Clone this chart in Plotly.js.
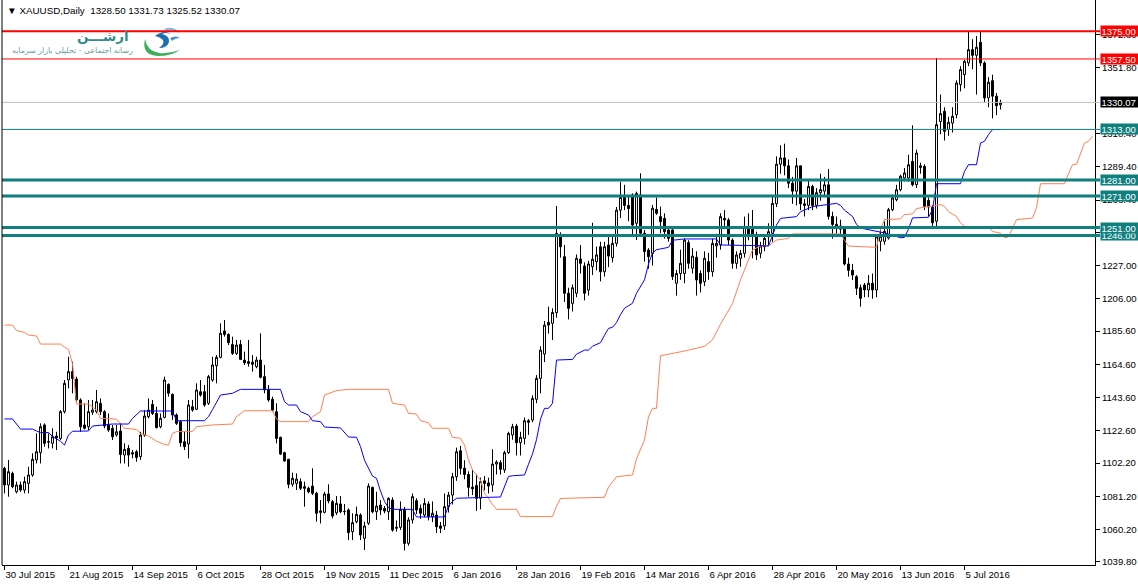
<!DOCTYPE html>
<html><head><meta charset="utf-8">
<script src="https://cdn.plot.ly/plotly-3.0.1.min.js"></script>
<style>html,body{margin:0;padding:0;background:#fff;}#chart{width:1138px;height:585px;}</style>
</head><body><div id="chart"></div>
<script>
// ---- data ----
const openP = [1098.9,1088.4,1095.7,1084.1,1088.4,1085.2,1089.4,1094.7,1104.2,1108.8,
1126.3,1115.8,1114.7,1119.3,1117.8,1134.7,1154.7,1160.0,1155.3,1142.1,
1126.3,1125.2,1134.3,1134.7,1140.0,1134.7,1126.3,1124.2,1120.0,1122.5,
1107.3,1111.5,1108.8,1109.4,1106.3,1119.9,1131.5,1139.3,1133.6,1125.2,
1131.1,1151.9,1145.6,1132.6,1128.4,1115.7,1114.3,1137.8,1136.2,1147.3,
1147.3,1140.0,1154.7,1163.7,1169.0,1185.7,1183.5,1177.2,1171.5,1177.2,
1167.3,1166.3,1165.9,1163.1,1167.3,1156.8,1148.4,1142.5,1134.7,1118.5,
1108.8,1104.6,1088.8,1089.4,1090.5,1087.3,1086.3,1087.7,1083.1,1072.0,
1071.1,1082.7,1077.8,1070.8,1076.4,1071.5,1072.6,1058.9,1065.2,1069.4,
1054.7,1064.2,1086.9,1071.5,1075.7,1073.6,1071.5,1078.9,1061.0,1061.6,
1073.0,1051.5,1066.3,1078.5,1073.6,1069.4,1076.4,1068.4,1069.4,1062.5,
1062.5,1074.7,1082.0,1093.6,1110.0,1099.0,1095.0,1087.0,1088.0,1080.0,
1091.0,1089.7,1088.4,1101.6,1102.5,1097.9,1108.8,1120.0,1125.6,1115.1,
1117.8,1129.0,1129.4,1142.5,1155.7,1171.1,1191.1,1190.5,1197.2,1246.3,
1232.6,1209.5,1203.1,1209.5,1231.1,1226.7,1211.5,1226.3,1229.4,1238.9,
1223.1,1240.0,1232.0,1241.0,1262.0,1270.0,1265.0,1271.6,1253.7,1271.6,
1247.4,1236.8,1234.7,1262.5,1257.9,1256.8,1249.5,1249.5,1215.8,1222.0,
1222.0,1241.5,1225.3,1232.2,1222.0,1216.8,1229.5,1223.1,1239.4,1240.0,
1256.8,1255.8,1243.1,1228.4,1231.6,1234.7,1250.5,1250.5,1246.3,1234.7,
1238.9,1245.2,1247.4,1266.0,1291.0,1295.0,1290.0,1279.0,1274.0,1290.0,
1266.0,1265.0,1277.0,1265.0,1273.0,1274.0,1278.0,1258.0,1253.0,1252.0,
1250.0,1228.0,1224.0,1220.0,1213.0,1214.7,1211.6,1215.8,1211.6,1242.3,
1242.3,1244.4,1262.3,1268.6,1274.9,1282.3,1282.3,1292.8,1278.1,1290.0,
1289.7,1268.2,1263.8,1255.0,1318.0,1324.4,1312.9,1317.0,1322.3,1341.3,
1347.6,1355.0,1363.4,1359.8,1368.0,1355.0,1332.9,1343.8,1334.0,1328.5];
const highP = [1099.9,1104.2,1096.8,1090.5,1090.5,1093.6,1099.9,1108.4,1121.0,1127.3,
1127.3,1121.0,1124.2,1122.0,1135.7,1154.7,1169.4,1166.3,1156.8,1143.1,
1140.0,1142.1,1142.1,1148.4,1143.1,1135.7,1133.6,1126.3,1126.3,1127.3,
1114.7,1113.6,1110.5,1110.5,1122.0,1135.7,1143.1,1142.1,1137.8,1133.6,
1156.8,1152.6,1146.3,1133.6,1129.4,1122.0,1142.1,1142.1,1152.6,1154.7,
1151.5,1157.9,1169.4,1170.5,1190.5,1192.6,1184.2,1182.1,1180.0,1180.0,
1172.6,1180.0,1170.5,1169.4,1184.2,1164.2,1151.5,1144.2,1140.0,1118.9,
1109.4,1104.9,1096.2,1095.7,1092.6,1090.5,1087.3,1098.9,1084.1,1078.9,
1084.1,1088.8,1078.9,1081.4,1081.4,1076.4,1073.6,1070.5,1074.7,1070.5,
1065.2,1089.4,1087.3,1084.1,1078.9,1075.1,1080.6,1080.6,1066.0,1078.0,
1074.5,1068.0,1083.0,1080.0,1076.0,1080.0,1078.0,1078.0,1072.0,1065.0,
1083.0,1084.0,1096.0,1112.0,1113.0,1104.0,1097.0,1098.0,1095.0,1093.0,
1094.0,1093.0,1111.0,1104.0,1104.0,1110.0,1122.0,1127.0,1127.0,1122.0,
1131.0,1130.0,1145.0,1157.8,1176.0,1192.0,1201.0,1200.0,1264.6,1248.0,
1240.0,1213.0,1215.0,1234.0,1240.0,1229.0,1230.0,1254.0,1239.0,1242.0,
1242.0,1246.0,1245.0,1264.0,1280.0,1278.0,1271.0,1272.6,1273.7,1285.3,
1249.5,1238.0,1265.3,1270.0,1264.2,1260.0,1250.5,1250.5,1224.2,1237.0,
1244.2,1243.0,1238.0,1236.0,1224.0,1236.0,1235.0,1244.0,1247.0,1260.0,
1262.0,1257.0,1244.2,1236.0,1236.8,1257.9,1260.0,1262.1,1248.4,1242.0,
1245.2,1253.7,1270.5,1296.0,1303.0,1304.0,1294.0,1283.0,1295.0,1290.0,
1269.0,1281.0,1278.0,1276.0,1285.0,1283.0,1288.0,1261.0,1258.0,1256.0,
1251.0,1232.0,1228.0,1221.0,1215.0,1216.0,1221.0,1222.0,1247.0,1250.7,
1254.9,1263.4,1271.8,1278.0,1284.4,1288.6,1297.0,1315.6,1300.2,1292.0,
1291.0,1270.0,1265.0,1358.0,1335.0,1327.0,1321.0,1327.0,1344.0,1353.0,
1357.0,1375.0,1370.0,1372.0,1375.0,1356.0,1346.0,1347.6,1336.0,1331.73];
const lowP = [1083.1,1081.0,1086.3,1083.1,1084.1,1083.1,1083.1,1093.6,1102.0,1102.0,
1112.6,1111.5,1111.5,1110.5,1116.8,1133.6,1149.4,1146.3,1141.0,1122.0,
1123.5,1123.1,1132.6,1133.6,1132.6,1124.2,1122.0,1116.8,1118.9,1102.0,
1102.0,1099.9,1105.2,1103.1,1104.2,1118.9,1130.5,1132.6,1124.2,1124.2,
1130.5,1144.2,1129.4,1126.3,1112.6,1110.5,1105.2,1134.7,1135.7,1144.2,
1137.8,1138.9,1153.6,1152.6,1168.4,1182.1,1176.8,1170.5,1170.5,1167.3,
1164.2,1163.1,1160.0,1162.1,1155.7,1146.3,1141.0,1134.7,1114.7,1107.3,
1103.1,1086.3,1087.3,1085.2,1085.2,1074.7,1083.1,1082.0,1065.2,1064.1,
1070.5,1076.8,1067.3,1069.4,1070.5,1069.4,1053.6,1053.6,1064.2,1053.6,
1047.3,1063.1,1070.5,1066.3,1069.4,1070.5,1066.3,1058.9,1059.0,1060.0,
1047.0,1050.0,1064.0,1070.0,1067.0,1068.0,1066.0,1065.0,1058.0,1058.0,
1060.0,1071.0,1076.0,1091.0,1095.0,1092.0,1081.0,1082.0,1072.0,1073.0,
1085.0,1083.0,1084.0,1095.0,1095.0,1096.0,1108.0,1117.0,1107.0,1107.0,
1114.0,1120.0,1128.0,1140.0,1146.3,1166.0,1184.0,1180.0,1194.0,1232.0,
1204.0,1193.0,1198.0,1207.0,1222.0,1205.0,1208.0,1221.0,1224.0,1217.0,
1220.0,1226.0,1229.0,1239.0,1257.0,1262.0,1255.0,1245.2,1243.1,1245.0,
1229.5,1225.0,1227.0,1259.0,1247.4,1244.0,1242.1,1217.9,1208.0,1218.0,
1215.8,1225.0,1222.0,1208.0,1210.0,1214.0,1218.0,1220.0,1232.0,1237.0,
1250.0,1240.0,1225.0,1225.0,1226.3,1232.0,1243.0,1231.6,1230.5,1231.6,
1236.0,1240.0,1242.0,1264.0,1285.0,1284.0,1276.0,1266.0,1265.0,1262.0,
1258.0,1262.0,1262.0,1263.0,1268.0,1271.0,1256.0,1244.0,1245.0,1246.0,
1227.0,1220.0,1217.9,1208.4,1201.0,1207.0,1207.0,1206.0,1207.0,1236.0,
1240.2,1243.4,1261.3,1267.6,1273.9,1280.2,1280.0,1277.0,1276.0,1285.0,
1262.0,1258.0,1250.0,1250.0,1310.0,1306.0,1309.0,1311.0,1320.0,1337.0,
1339.0,1353.0,1351.0,1335.0,1353.0,1330.0,1327.0,1320.0,1322.0,1325.52];
const closeP = [1088.4,1096.8,1087.3,1088.4,1085.2,1090.5,1094.7,1104.6,1109.4,1125.2,
1114.7,1115.5,1118.9,1118.2,1134.7,1152.6,1160.0,1155.7,1142.1,1125.2,
1124.2,1134.7,1135.7,1141.0,1134.7,1125.6,1123.1,1118.9,1122.0,1107.7,
1110.9,1107.3,1108.0,1105.8,1119.9,1131.9,1135.7,1133.6,1124.6,1130.5,
1154.7,1146.3,1132.6,1127.3,1115.1,1112.6,1138.9,1135.7,1148.4,1145.2,
1138.9,1156.8,1164.2,1169.0,1184.2,1183.5,1178.3,1171.5,1176.8,1167.7,
1165.6,1165.2,1164.6,1167.3,1156.4,1148.4,1142.1,1135.7,1117.8,1107.9,
1103.5,1088.8,1092.6,1092.1,1086.3,1086.3,1084.1,1083.1,1070.5,1071.1,
1082.7,1078.3,1068.8,1076.8,1071.5,1071.7,1058.3,1064.6,1069.8,1056.8,
1062.5,1087.7,1071.5,1075.1,1072.6,1071.9,1079.9,1059.9,1061.6,1073.0,
1051.5,1066.3,1081.0,1072.6,1070.5,1076.8,1068.4,1070.5,1062.0,1061.0,
1074.7,1082.0,1093.6,1109.4,1098.9,1095.0,1086.9,1086.0,1080.0,1090.5,
1089.4,1087.7,1101.6,1102.9,1098.3,1108.8,1121.0,1125.2,1115.1,1118.5,
1129.0,1128.0,1143.1,1155.7,1173.6,1189.4,1189.4,1197.4,1247.3,1238.9,
1209.5,1200.0,1213.0,1231.6,1228.4,1209.5,1228.0,1231.0,1233.7,1223.1,
1238.9,1233.0,1241.0,1262.0,1270.0,1265.0,1263.0,1252.6,1272.6,1247.4,
1235.8,1232.6,1263.2,1260.0,1254.7,1248.4,1244.2,1220.0,1222.0,1228.4,
1243.1,1228.4,1233.0,1217.9,1215.8,1231.6,1223.1,1241.0,1241.0,1257.9,
1255.8,1243.1,1228.4,1233.7,1234.7,1251.6,1245.2,1246.3,1233.7,1239.4,
1244.2,1248.4,1266.3,1291.0,1295.0,1290.0,1279.0,1274.0,1290.0,1266.0,
1265.0,1277.0,1265.0,1273.0,1275.0,1278.0,1258.0,1253.0,1252.0,1250.0,
1228.0,1224.0,1221.0,1212.6,1206.3,1211.6,1215.8,1211.6,1245.2,1245.5,
1248.6,1262.3,1269.7,1274.9,1283.4,1285.5,1290.7,1278.1,1298.1,1289.0,
1264.4,1264.0,1254.0,1316.0,1323.0,1311.8,1317.5,1321.3,1342.3,1350.8,
1356.0,1363.4,1359.8,1364.9,1355.0,1332.9,1342.8,1334.0,1328.0,1330.07];

// indicator lines: [bar index, price] points
const blueIdx = [0,2,4,7,8,9,11,12,14,15,16,17,21,22,27,31,32,34,42,43,50,51,52,54,57,59,69,70,71,73,74,76,77,79,80,84,86,88,89,90,92,93,94,95,96,97,102,103,110,111,112,113,124,125,126,127,130,131,132,133,134,135,136,137,138,142,143,145,146,147,149,150,151,152,153,154,155,157,158,160,161,162,163,166,167,170,178,179,191,192,193,194,198,199,202,208,209,210,211,212,213,214,220,223,224,225,226,227,231,232,233,239,240,241,243,244,245,246,247,249];
const blueVal = [1130.1,1130.1,1123.7,1123.7,1122.5,1121.5,1121.5,1119,1116,1113.6,1120,1122.3,1122.5,1125.6,1126.9,1126.9,1130.5,1135.1,1135.1,1129,1129,1131.5,1136,1145.2,1146.3,1148.8,1148.8,1141,1138.9,1138.9,1134.7,1132.6,1129,1128.4,1125,1124.4,1118.7,1118.5,1112.6,1104,1094,1092.6,1084.5,1078,1074,1073,1073,1068.2,1068.2,1075.2,1078,1080,1080.8,1087,1093.8,1094.2,1094.7,1101.5,1108,1117,1130,1136.8,1136.8,1140,1167.3,1167.7,1171,1173.6,1173.6,1176,1178.3,1183,1187.3,1188,1191,1196,1200,1203.2,1209.5,1218,1228,1235,1237,1238.5,1243,1243.8,1243.8,1240,1239.4,1246,1252.6,1256.8,1257.9,1261,1264.2,1266.3,1265,1262,1260.2,1258,1253,1250.7,1247.6,1245.5,1244.6,1244.8,1250,1257.1,1257.5,1262.3,1278.7,1278.7,1286.5,1290.7,1290.7,1304.4,1305.5,1309.7,1312.9,1312.9];
const orangeIdx = [0,2,3,5,6,8,9,14,15,16,17,18,21,22,23,24,28,29,30,33,34,36,38,40,41,42,43,47,48,52,57,58,60,67,68,69,76,77,79,80,83,86,96,97,100,101,103,104,106,107,111,112,114,115,116,117,119,120,121,122,123,128,129,137,138,139,150,151,153,157,158,160,161,162,163,164,170,175,177,179,181,182,184,186,187,189,191,193,196,197,209,210,211,218,219,220,224,225,227,228,231,234,235,236,237,238,239,240,246,247,249,250,251,252,253,257,258,259,265,266,267,268,269,270,271,272];
const orangeVal = [1189.4,1189.4,1186,1184.8,1183.1,1182.5,1177.4,1177.4,1175.5,1174,1165,1139.5,1139.5,1137.8,1135.7,1130.5,1130,1127,1124.2,1123.5,1121,1119.3,1116,1114,1113.6,1121,1122.1,1122.1,1125.2,1126.3,1126.9,1131.5,1135.3,1135.3,1130,1128.4,1128.4,1131.5,1134.7,1145.2,1148,1148.8,1148.8,1140,1138.9,1133.6,1133.2,1129,1127.7,1124.2,1124.2,1118.5,1117.9,1113.6,1104.2,1097.9,1091.5,1083.1,1080,1076,1073,1073,1068.4,1068.4,1075,1079.9,1080.6,1087,1093.6,1094.7,1105,1116.8,1131.5,1136.8,1136.8,1170,1173,1176,1180,1190,1199,1203,1218,1231,1236.8,1239.4,1239.4,1243.1,1244.2,1247,1247,1243,1239.3,1238.5,1250,1256,1256.5,1259.2,1259.6,1263,1264.4,1265.5,1264.4,1261,1259.6,1258,1254,1251.8,1251.2,1248.6,1247.4,1244.6,1245,1250,1256,1257,1263.4,1278.7,1278.7,1285,1290.7,1291,1298.1,1304.4,1305.5,1308.6];

const dateLabels = ['30 Jul 2015','21 Aug 2015','14 Sep 2015','6 Oct 2015','28 Oct 2015','19 Nov 2015','11 Dec 2015','6 Jan 2016','28 Jan 2016','19 Feb 2016','14 Mar 2016','6 Apr 2016','28 Apr 2016','20 May 2016','13 Jun 2016','5 Jul 2016'];
const dateTickIdx = [0,16,32,48,64,80,96,112,128,144,160,176,192,208,224,240];
const priceTicks = [1039.8,1060.2,1081.2,1102.2,1122.6,1143.6,1164.6,1185.6,1206.0,1227.0,1247.8,1268.4,1289.4,1310.4,1351.8,1372.8];

// level lines, listed from low to high so higher labels sit on top
const levelPrices = [1246.00,1251.00,1271.00,1281.00,1313.00,1330.07,1357.50,1375.00];
const levelColors = ['#0f7f7f','#0f7f7f','#0f7f7f','#0f7f7f','#0f7f7f','#c0c0c0','#ff0000','#ff0000'];
const levelWidths = [3,3,3,3,1,1,1,2];
const levelLabelBg = ['#0f7f7f','#0f7f7f','#0f7f7f','#0f7f7f','#0f7f7f','#000000','#ff0000','#ff0000'];

const headerText = '▼ XAUUSD,Daily  1328.50 1331.73 1325.52 1330.07';
const logoTitle = 'ارشـــن';
const logoSub = 'رسانه اجتماعی - تحلیلی بازار سرمایه';

// ---- layout helpers ----
const W = 1138, H = 585, ML = 2, MR = 43, MT = 0, MB = 20;
const PW = W - ML - MR, PH = H - MT - MB;
const px = x => (x - ML) / PW;
const py = y => 1 - (y - MT) / PH;
const FONT = 'Liberation Sans, Arial, sans-serif';

const idx = openP.map((_, i) => i);

const traces = [
  {type:'scatter', mode:'lines', x: orangeIdx, y: orangeVal, line:{color:'#ff7f50', width:1}, hoverinfo:'skip'},
  {type:'scatter', mode:'lines', x: blueIdx, y: blueVal, line:{color:'#0000ff', width:1}, hoverinfo:'skip'},
  {type:'candlestick', x: idx, open: openP, high: highP, low: lowP, close: closeP,
   increasing:{line:{color:'#000000', width:1}, fillcolor:'#ffffff'},
   decreasing:{line:{color:'#000000', width:1}, fillcolor:'#000000'},
   whiskerwidth:0, hoverinfo:'skip'}
];

const shapes = [];
const annotations = [];
levelPrices.forEach((p, k) => {
  shapes.push({type:'line', xref:'paper', yref:'y', x0:0, x1:1 + 5/PW, y0:p, y1:p,
    line:{color:levelColors[k], width:levelWidths[k]}, layer:'above'});
  annotations.push({xref:'paper', yref:'y', x:1, y:p, xshift:5, xanchor:'left', yanchor:'middle',
    text: p.toFixed(2), showarrow:false, bgcolor:levelLabelBg[k], width:37, height:9, align:'left',
    borderpad:0.5, font:{family:FONT, size:9.5, color:'#ffffff'}});
});
// left frame
shapes.push({type:'line', xref:'paper', yref:'paper', x0:0, x1:0, y0:0, y1:1, line:{color:'#000', width:1}});

annotations.push({xref:'paper', yref:'paper', x:px(5), y:py(10), xanchor:'left', yanchor:'middle',
  text: headerText, showarrow:false, font:{family:FONT, size:9.8, color:'#000'}});
annotations.push({xref:'paper', yref:'paper', x:px(131), y:py(36), xanchor:'right', yanchor:'middle',
  text: '<b>'+logoTitle+'</b>', showarrow:false, font:{family:'DejaVu Sans, sans-serif', size:13.5, color:'#2f8c8a'}});
annotations.push({xref:'paper', yref:'paper', x:px(135), y:py(50), xanchor:'right', yanchor:'middle',
  text: logoSub, showarrow:false, font:{family:'DejaVu Sans, sans-serif', size:7.8, color:'#6a9e9c'}});

const logoSvg = "<svg xmlns='http://www.w3.org/2000/svg' width='44' height='32' viewBox='0 0 44 32'>" +
 "<path d='M5 13 Q1 29 18 30 Q31 30 40 24 Q29 28 19 27 Q7 25 5 13Z' fill='#3fae5c'/>" +
 "<path d='M15 10 Q24 3 31 8 Q26 6 22 8 Q30 10 29 16 Q27 22 19 22 Q25 18 23 14 Q20 11 15 10Z' fill='#1d6fb0'/>" +
 "<path d='M24 3 Q33 -1 40 7 Q33 3 27 5Z' fill='#86b8de'/>" +
 "<path d='M30 12 Q36 9 40 12 Q35 12 32 15Z' fill='#4f8fc7'/></svg>";

const layout = {
  width: W, height: H, margin:{l:ML, r:MR, t:MT, b:MB},
  paper_bgcolor:'#ffffff', plot_bgcolor:'#ffffff', showlegend:false,
  xaxis:{range:[-0.625, -0.625 + PW/4], showgrid:false, zeroline:false, showline:true, linecolor:'#000', linewidth:1,
    tickmode:'array', tickvals: dateTickIdx, ticktext: dateLabels, ticks:'outside', ticklen:4, tickcolor:'#000',
    ticklabelposition:'outside right', tickfont:{family:FONT, size:9.6, color:'#000'}, rangeslider:{visible:false}, fixedrange:true},
  yaxis:{range:[1037.84, 1394.75], side:'right', showgrid:false, zeroline:false, showline:true, linecolor:'#000', linewidth:1,
    tickmode:'array', tickvals: priceTicks, ticktext: priceTicks.map(v => v.toFixed(2)), ticks:'outside', ticklen:4, tickcolor:'#000',
    tickfont:{family:FONT, size:9.6, color:'#000'}, fixedrange:true},
  shapes: shapes, annotations: annotations,
  images:[{source:'data:image/svg+xml;utf8,' + encodeURIComponent(logoSvg), xref:'paper', yref:'paper',
    x:px(140), y:py(26), sizex:44/PW, sizey:32/PH, xanchor:'left', yanchor:'top', layer:'above'}]
};

Plotly.newPlot('chart', traces, layout, {staticPlot:true, displayModeBar:false});
</script></body></html>
